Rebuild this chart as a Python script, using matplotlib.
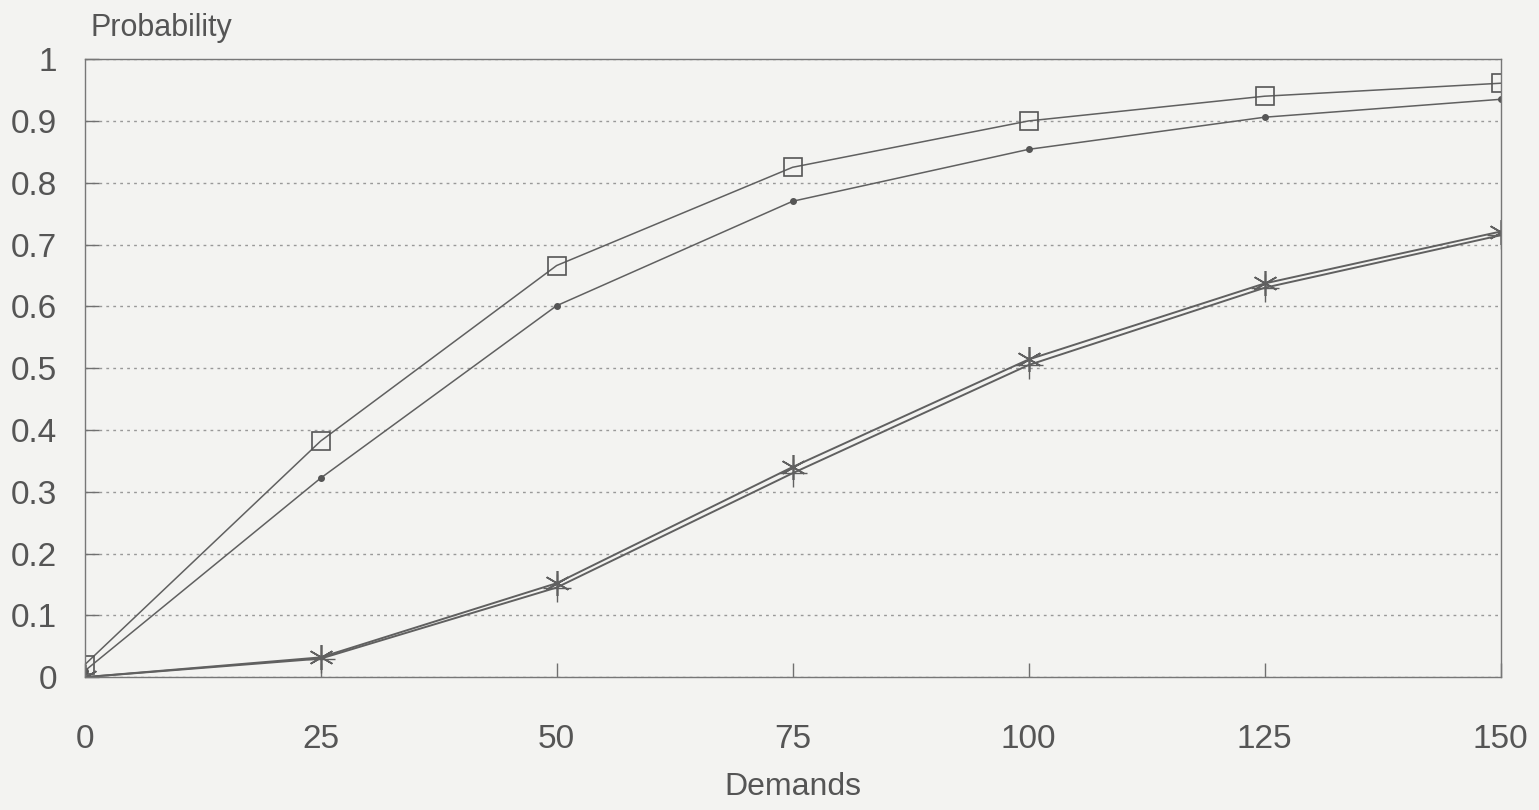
import numpy as np
import matplotlib.pyplot as plt

plt.rcParams['font.family'] = ['Liberation Sans', 'DejaVu Sans']

demands = [0, 25, 50, 75, 100, 125, 150]
p_square = [0.02, 0.382, 0.666, 0.825, 0.900, 0.940, 0.961]
p_dot = [0.01, 0.322, 0.601, 0.770, 0.854, 0.906, 0.935]
p_star = [0.0, 0.032, 0.152, 0.340, 0.514, 0.637, 0.721]
p_plus = [0.0, 0.030, 0.145, 0.330, 0.505, 0.630, 0.715]

ink = '#555555'
fig = plt.figure(figsize=(15.39, 8.1), dpi=100, facecolor='#f3f3f1')
ax = fig.add_axes([0.055, 0.164, 0.92, 0.763])
ax.set_facecolor('#f3f3f1')

ax.plot(demands, p_square, color='#606060', lw=1.1, marker='s', ms=13, mfc='none', mec=ink, mew=1.2)
ax.plot(demands, p_dot, color='#606060', lw=1.1, marker='o', ms=4, mfc=ink, mec=ink)
ax.plot(demands, p_plus, color='#606060', lw=1.4, marker='+', ms=20, mew=1.0)
ax.plot(demands, p_star, color='#606060', lw=1.4, marker=(6, 2, 0), ms=18, mew=1.2)

ax.set_xlim(0, 150)
ax.set_ylim(0, 1)
ax.set_xticks(np.arange(0, 151, 25))
ax.set_yticks(np.arange(0, 1.01, 0.1))
ax.set_yticklabels(['0', '0.1', '0.2', '0.3', '0.4', '0.5', '0.6', '0.7', '0.8', '0.9', '1'])
ax.yaxis.grid(True, linestyle=(0, (2, 3)), color='#999999', lw=1.0)
ax.tick_params(direction='in', length=10, width=1, colors='#707070', labelsize=24, labelcolor=ink)
ax.tick_params(axis='x', pad=34)
ax.tick_params(axis='y', pad=20)
for s in ax.spines.values():
    s.set_color('#777777')
    s.set_linewidth(1.0)

fig.text(0.059, 0.966, 'Probability', fontsize=22, color=ink, va='center', ha='left')
ax.set_xlabel('Demands', fontsize=23, color=ink, labelpad=12)

fig.savefig('out.png', dpi=100, facecolor=fig.get_facecolor())
